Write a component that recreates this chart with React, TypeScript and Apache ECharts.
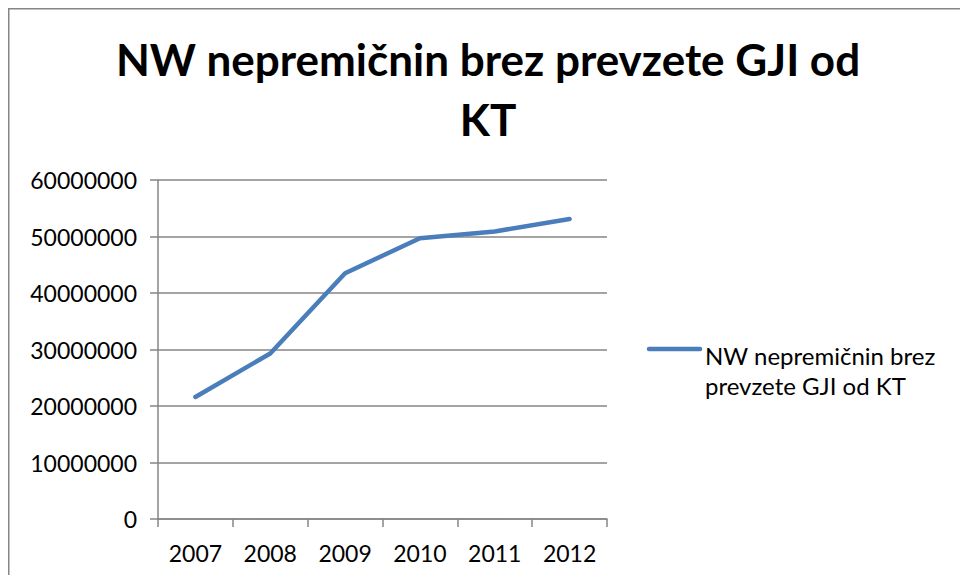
import React, { useEffect, useRef } from "react";
import * as echarts from "echarts";

const categories = ["2007", "2008", "2009", "2010", "2011", "2012"];
const seriesName = "NW nepremičnin brez prevzete GJI od KT";
const values = [21600000, 29300000, 43500000, 49700000, 50900000, 53100000];
const titleText = "NW nepremičnin brez prevzete GJI od\nKT";
const legendLines = "NW nepremičnin brez\nprevzete GJI od KT";

const FONT = "Lato, 'Open Sans', sans-serif";

export default function App() {
  const ref = useRef<HTMLDivElement>(null);
  useEffect(() => {
    if (!ref.current) return;
    const chart = echarts.init(ref.current, null, { renderer: "svg" });
    chart.setOption({
      animation: false,
      backgroundColor: "#ffffff",
      title: {
        text: titleText,
        left: 475,
        top: 16,
        textAlign: "center",
        textStyle: {
          fontFamily: FONT,
          fontWeight: "bold",
          fontSize: 44,
          lineHeight: 60,
          color: "#000000",
        },
      },
      grid: { left: 150, top: 172, right: 353, bottom: 56, containLabel: false },
      xAxis: {
        type: "category",
        data: categories,
        boundaryGap: true,
        axisLine: { lineStyle: { color: "#868686", width: 1.5 } },
        axisTick: { show: true, length: 8, lineStyle: { color: "#868686", width: 1.5 } },
        axisLabel: { color: "#000", fontFamily: FONT, fontSize: 23, margin: 22 },
        splitLine: { show: false },
      },
      yAxis: {
        type: "value",
        min: 0,
        max: 60000000,
        interval: 10000000,
        axisLine: { show: true, lineStyle: { color: "#868686", width: 1.5 } },
        axisTick: { show: true, length: 8, lineStyle: { color: "#868686", width: 1.5 } },
        axisLabel: {
          color: "#000",
          fontFamily: FONT,
          fontSize: 23,
          margin: 21,
          formatter: (v: number) => String(Math.round(v)),
        },
        splitLine: { show: true, lineStyle: { color: "#868686", width: 1.5 } },
      },
      series: [
        {
          name: seriesName,
          type: "line",
          data: values,
          showSymbol: false,
          symbol: "none",
          lineStyle: { color: "#4A7EBB", width: 4.5, cap: "round", join: "round" },
        },
      ],
      graphic: [
        {
          type: "rect",
          shape: { x: 0.5, y: 0.5, width: 990, height: 600 },
          style: { fill: "none", stroke: "#868686", lineWidth: 2 },
        },
        {
          type: "line",
          shape: { x1: 641, y1: 341, x2: 692, y2: 341 },
          style: { stroke: "#4A7EBB", lineWidth: 4.5, lineCap: "round" },
        },
        {
          type: "text",
          x: 697,
          y: 332,
          style: {
            text: legendLines,
            fontFamily: FONT,
            fontSize: 24,
            lineHeight: 30,
            fill: "#000",
            textVerticalAlign: "top",
          },
        },
      ],
    });
    return () => chart.dispose();
  }, []);
  return (
    <div
      ref={ref}
      style={{ width: 952, height: 567, position: "absolute", left: 8, top: 8 }}
    />
  );
}
